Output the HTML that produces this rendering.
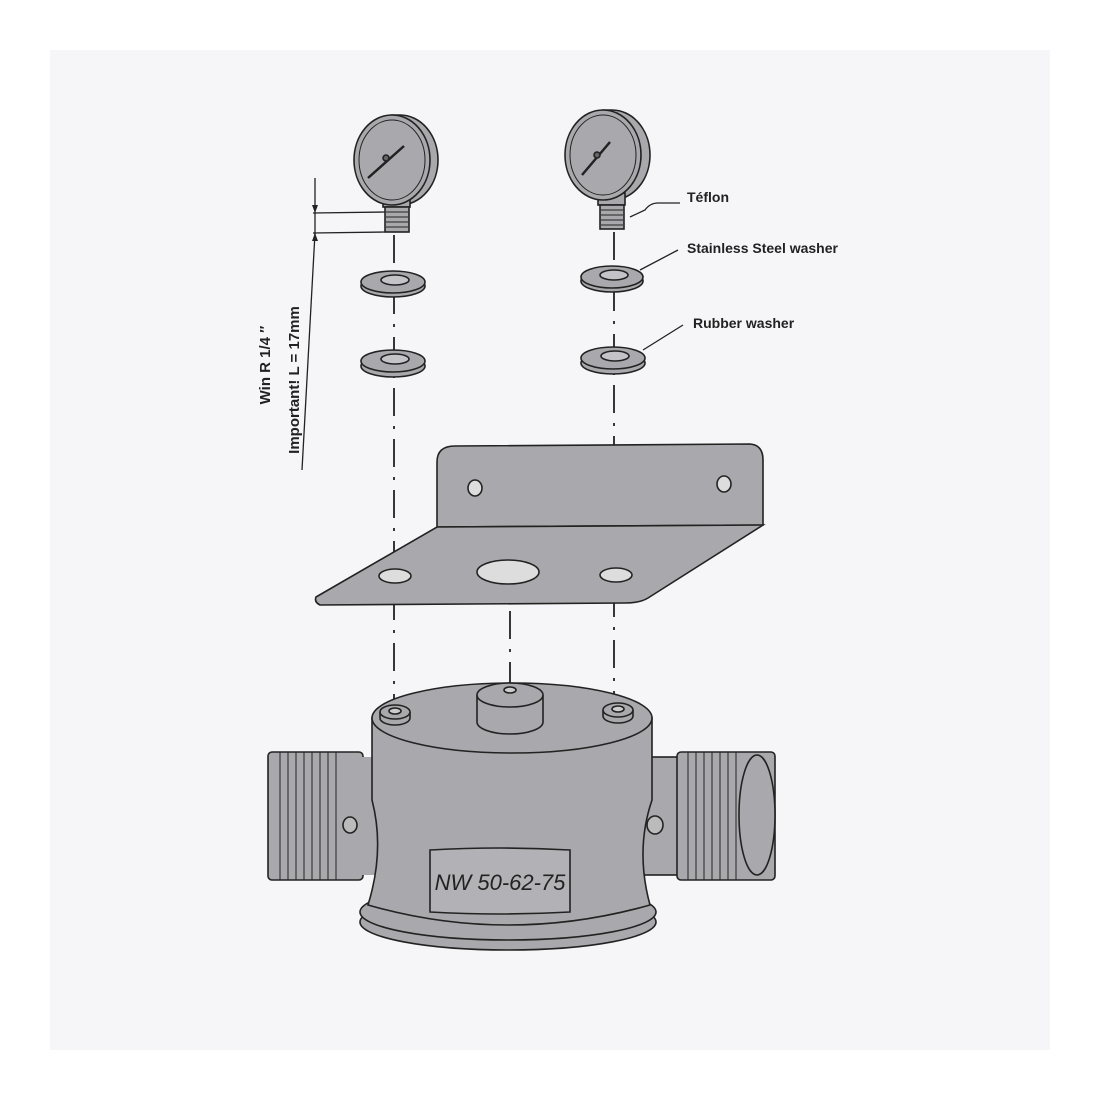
<!DOCTYPE html>
<html><head><style>html,body{margin:0;padding:0;background:#fff}svg{display:block}</style></head><body>
<svg width="1100" height="1100" viewBox="0 0 1100 1100" xmlns="http://www.w3.org/2000/svg" font-family="Liberation Sans, sans-serif">
<rect x="0" y="0" width="1100" height="1100" fill="#fff"/>
<rect x="50" y="50" width="1000" height="1000" fill="#f6f6f8"/>
<g stroke="#222" stroke-width="1.6" fill="#a9a9ad">
<!-- dash-dot lines -->
<g fill="none" stroke-width="1.8" stroke-dasharray="28,10,3,10">
<line x1="394" y1="235" x2="394" y2="705"/>
<line x1="614" y1="232" x2="614" y2="705"/>
<line x1="510" y1="560" x2="510" y2="690"/>
</g>
<!-- left gauge -->
<path d="M392 115 L400 115 A38 45 0 0 1 400 205 L392 205 Z"/>
<rect x="383" y="195" width="27" height="12"/>
<rect x="385" y="207" width="24" height="25"/>
<g stroke-width="1"><line x1="386" y1="212" x2="408" y2="212"/><line x1="386" y1="217" x2="408" y2="217"/><line x1="386" y1="222" x2="408" y2="222"/><line x1="386" y1="227" x2="408" y2="227"/></g>
<ellipse cx="392" cy="160" rx="38" ry="45"/>
<ellipse cx="392" cy="160" rx="33" ry="40" fill="none" stroke-width="1"/>
<line x1="368" y1="178" x2="404" y2="146" stroke-width="2.5"/>
<circle cx="386" cy="158" r="3" fill="#666"/>
<!-- right gauge -->
<path d="M603 110 L612 110 A38 45 0 0 1 612 200 L603 200 Z"/>
<rect x="598" y="193" width="27" height="12"/>
<rect x="600" y="205" width="24" height="24"/>
<g stroke-width="1"><line x1="601" y1="210" x2="623" y2="210"/><line x1="601" y1="215" x2="623" y2="215"/><line x1="601" y1="220" x2="623" y2="220"/><line x1="601" y1="225" x2="623" y2="225"/></g>
<ellipse cx="603" cy="155" rx="38" ry="45"/>
<ellipse cx="603" cy="155" rx="33" ry="40" fill="none" stroke-width="1"/>
<line x1="582" y1="175" x2="610" y2="142" stroke-width="2.5"/>
<circle cx="597" cy="155" r="3" fill="#666"/>
<!-- washers -->
<ellipse cx="393" cy="286" rx="32" ry="11"/><ellipse cx="393" cy="282" rx="32" ry="11"/><ellipse cx="395" cy="280" rx="14" ry="5" fill="#c4c4c8"/>
<ellipse cx="393" cy="366" rx="32" ry="11"/><ellipse cx="393" cy="361" rx="32" ry="11"/><ellipse cx="395" cy="359" rx="14" ry="5" fill="#c4c4c8"/>
<ellipse cx="612" cy="281" rx="31" ry="11"/><ellipse cx="612" cy="277" rx="31" ry="11"/><ellipse cx="614" cy="275" rx="14" ry="5" fill="#c4c4c8"/>
<ellipse cx="613" cy="363" rx="32" ry="11"/><ellipse cx="613" cy="358" rx="32" ry="11"/><ellipse cx="615" cy="356" rx="14" ry="5" fill="#c4c4c8"/>
<!-- bracket -->
<path d="M437 527 L437 462 Q437 446 455 446 L750 444 Q763 445 763 460 L763 525 Z"/>
<path d="M316 597 L437 527 L763 525 L648 598 Q640 603 625 603 L320 605 Q314 602 316 597 Z"/>
<ellipse cx="475" cy="488" rx="7" ry="8" fill="#ddd"/>
<ellipse cx="724" cy="484" rx="7" ry="8" fill="#ddd"/>
<ellipse cx="395" cy="576" rx="16" ry="7" fill="#ddd"/>
<ellipse cx="508" cy="572" rx="31" ry="12" fill="#ddd"/>
<ellipse cx="616" cy="575" rx="16" ry="7" fill="#ddd"/>
<!-- pipes -->
<rect x="268" y="752" width="95" height="128" rx="4"/>
<rect x="340" y="757" width="40" height="118" stroke="none"/>
<g fill="none" stroke-width="1">
<line x1="280" y1="752" x2="280" y2="880"/><line x1="288" y1="752" x2="288" y2="880"/><line x1="296" y1="752" x2="296" y2="880"/><line x1="304" y1="752" x2="304" y2="880"/><line x1="312" y1="752" x2="312" y2="880"/><line x1="320" y1="752" x2="320" y2="880"/><line x1="328" y1="752" x2="328" y2="880"/><line x1="336" y1="752" x2="336" y2="880"/>
</g>
<rect x="640" y="757" width="50" height="118"/>
<rect x="677" y="752" width="98" height="128" rx="4"/>
<g fill="none" stroke-width="1">
<line x1="688" y1="752" x2="688" y2="880"/><line x1="696" y1="752" x2="696" y2="880"/><line x1="704" y1="752" x2="704" y2="880"/><line x1="712" y1="752" x2="712" y2="880"/><line x1="720" y1="752" x2="720" y2="880"/><line x1="728" y1="752" x2="728" y2="880"/><line x1="736" y1="752" x2="736" y2="880"/>
</g>
<ellipse cx="757" cy="815" rx="18" ry="60"/>
<!-- base flange -->
<ellipse cx="508" cy="922" rx="148" ry="28"/>
<ellipse cx="508" cy="912" rx="148" ry="28"/>
<!-- body -->
<path d="M372 718 L372 800 Q385 850 368 905 Q508 945 650 905 Q635 850 652 800 L652 718 Z"/>
<ellipse cx="512" cy="718" rx="140" ry="35"/>
<ellipse cx="350" cy="825" rx="7" ry="8" fill="#bbb"/>
<ellipse cx="655" cy="825" rx="8" ry="9" fill="#bbb"/>
<!-- bosses -->
<path d="M477 695 L477 722 A33 12 0 0 0 543 722 L543 695"/>
<ellipse cx="510" cy="695" rx="33" ry="12"/>
<ellipse cx="510" cy="690" rx="6" ry="3" fill="#ccc"/>
<path d="M380 712 L380 718 A15 7 0 0 0 410 718 L410 712"/><ellipse cx="395" cy="712" rx="15" ry="7"/><ellipse cx="395" cy="711" rx="6" ry="3" fill="#ccc"/>
<path d="M603 710 L603 716 A15 7 0 0 0 633 716 L633 710"/><ellipse cx="618" cy="710" rx="15" ry="7"/><ellipse cx="618" cy="709" rx="6" ry="3" fill="#ccc"/>
<!-- label plate -->
<path d="M430 850 Q500 846 570 850 L570 912 Q500 916 430 912 Z" fill="#b2b2b6"/>
</g>
<text x="500" y="890" text-anchor="middle" font-size="22" font-style="italic" fill="#222">NW 50-62-75</text>
<!-- dimension -->
<g stroke="#222" stroke-width="1.3" fill="none">
<line x1="315" y1="178" x2="315" y2="240"/>
<line x1="313" y1="213" x2="385" y2="212"/>
<line x1="313" y1="233" x2="385" y2="232"/>
<line x1="315" y1="233" x2="302" y2="470"/>
<line x1="250" y1="470" x2="250" y2="470"/>
</g>
<path d="M312 205 L315 213 L318 205 Z M312 241 L315 233 L318 241 Z" fill="#222"/>
<text transform="translate(270,365) rotate(-90)" text-anchor="middle" font-size="15" font-weight="bold" fill="#222">Win R 1/4 ″</text>
<text transform="translate(299,380) rotate(-90)" text-anchor="middle" font-size="15" font-weight="bold" fill="#222">Important! L = 17mm</text>
<!-- callouts -->
<g stroke="#222" stroke-width="1.3" fill="none">
<path d="M680 203 L658 203 Q650 203 645 210 L630 217"/>
<line x1="678" y1="250" x2="640" y2="270"/>
<line x1="683" y1="325" x2="643" y2="350"/>
</g>
<text x="687" y="202" font-size="14" font-weight="bold" fill="#222">Téflon</text>
<text x="687" y="253" font-size="14" font-weight="bold" fill="#222">Stainless Steel washer</text>
<text x="693" y="328" font-size="14" font-weight="bold" fill="#222">Rubber washer</text>
</svg>
</body></html>
